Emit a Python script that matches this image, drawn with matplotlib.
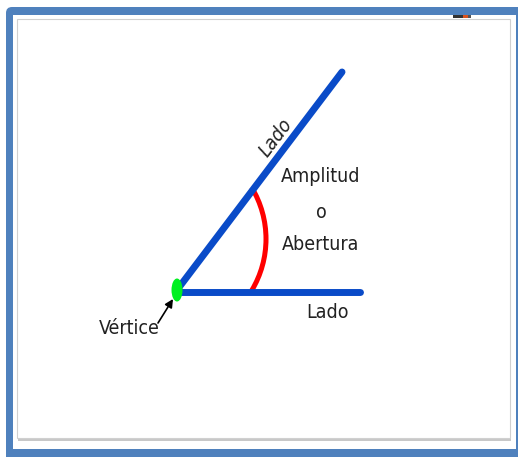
import matplotlib
matplotlib.use("Agg")
import matplotlib.pyplot as plt
from matplotlib.patches import FancyBboxPatch, Rectangle, Ellipse, Arc
from matplotlib import font_manager

# ---- diagram data (pixel coordinates, y downward) ----
vertex = (177, 290)
side_upper_end = (342, 72)
side_lower = ([181, 360], [292, 292])
arc_center = (166, 239)
arc_size = 100
arc_angles = (-31, 31)
arrow_tail = (158, 323)
arrow_head = (173, 299)
labels = ["Lado", "Lado", "Amplitud", "o", "Abertura", "Vértice"]

W, H = 518, 457
fig = plt.figure(figsize=(W / 100, H / 100), dpi=100)
ax = fig.add_axes([0, 0, 1, 1])
ax.set_xlim(0, W)
ax.set_ylim(H, 0)
ax.axis("off")

blue_frame = "#4f81bd"
ax.add_patch(FancyBboxPatch((6, 7), 530, 470, boxstyle="round,pad=0,rounding_size=6",
                            fc=blue_frame, ec="none", zorder=0))
ax.add_patch(Rectangle((13, 15), 503, 434, fc="white", ec="none", zorder=1))
ax.add_patch(Rectangle((18, 21), 493, 420, fc="#c8c8c8", ec="none", zorder=1.5))
ax.add_patch(Rectangle((17, 19), 493, 419, fc="white", ec="#d0d0d0", lw=0.8, zorder=2))
ax.add_patch(Rectangle((453, 15), 10, 3, fc="#333333", ec="none", zorder=3))
ax.add_patch(Rectangle((463, 15), 5, 3, fc="#d9531e", ec="none", zorder=3))
ax.add_patch(Rectangle((468, 15), 3, 3, fc="#555555", ec="none", zorder=3))

line_blue = "#0a4bc8"
ax.plot([vertex[0], side_upper_end[0]], [vertex[1], side_upper_end[1]],
        color=line_blue, lw=5.0, solid_capstyle="round", zorder=5)
ax.plot(side_lower[0], side_lower[1], color=line_blue, lw=5.0,
        solid_capstyle="round", zorder=5)
ax.add_patch(Arc(arc_center, 2 * arc_size, 2 * arc_size, theta1=arc_angles[0],
                 theta2=arc_angles[1], color="#ff0000", lw=3.6, zorder=4))
ax.add_patch(Ellipse(vertex, 11, 23, fc="#00f020", ec="none", zorder=6))

txt_color = "#222222"
fp = dict(family="DejaVu Sans", stretch="condensed")
ax.text(276, 138, labels[0], rotation=53, rotation_mode="anchor", ha="center", va="center",
        fontsize=14, color=txt_color, style="italic", **fp)
ax.text(328, 312, labels[1], ha="center", va="center", fontsize=14, color=txt_color, **fp)
ax.text(321, 176, labels[2], ha="center", va="center", fontsize=14, color=txt_color, **fp)
ax.text(321, 212, labels[3], ha="center", va="center", fontsize=14, color=txt_color, **fp)
ax.text(321, 245, labels[4], ha="center", va="center", fontsize=14, color=txt_color, **fp)
ax.text(129, 328, labels[5], ha="center", va="center", fontsize=14, color=txt_color, **fp)
ax.annotate("", xy=arrow_head, xytext=arrow_tail,
            arrowprops=dict(arrowstyle="-|>", color="black", lw=1.2, mutation_scale=12,
                            shrinkA=0, shrinkB=0))

fig.savefig("out.png", dpi=100)
